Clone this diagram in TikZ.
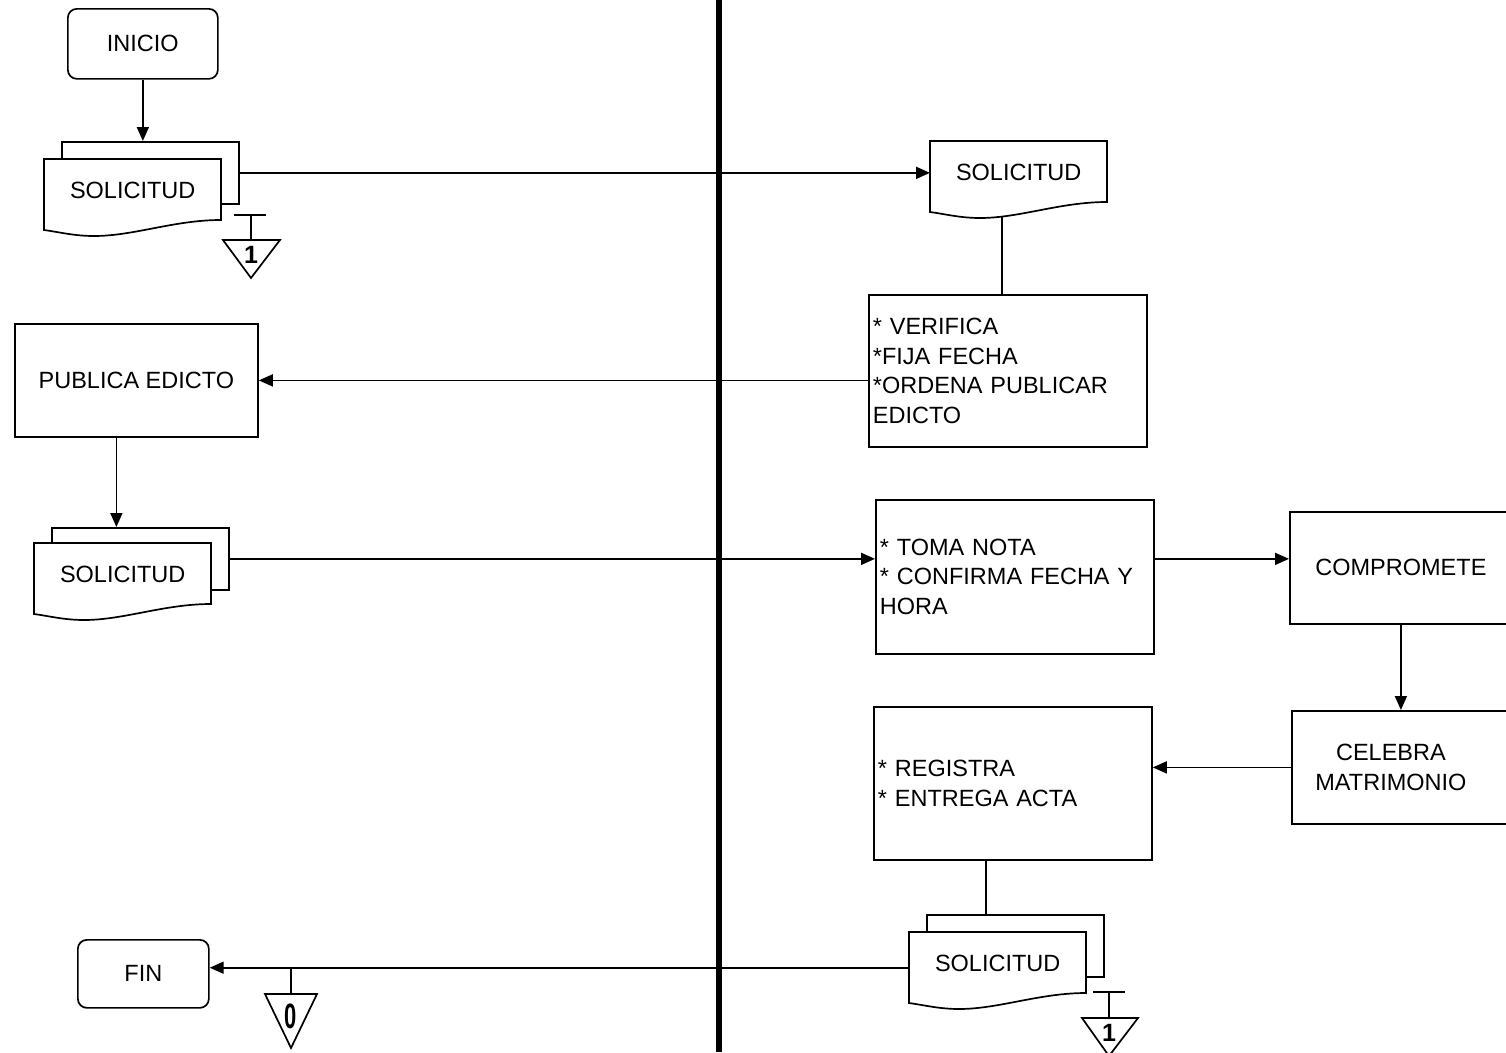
\documentclass[tikz,border=0pt]{standalone}
\usepackage{fontspec}
\setmainfont{Liberation Sans}
\usetikzlibrary{arrows.meta,calc}
\newcommand{\docshape}[2]{\draw[docline, shift={(#1,#2)}] (0,0) -- (177,0) -- (177,61) .. controls (130,61) and (90,77) .. (50,77) .. controls (30,77) and (15,73) .. (0,71) -- cycle;}

\begin{document}
\begin{tikzpicture}[
  x=1pt, y=-1pt,
  every node/.style={font=\fontsize{23.5}{29.5}\selectfont},
  term/.style={draw, rounded corners=9pt, line width=1.7pt, anchor=north west, inner sep=0pt},
  proc/.style={draw, line width=1.8pt, anchor=north west, inner sep=0pt},
  plist/.style={proc, align=left, inner xsep=4pt, text width=270pt},
  docback/.style={draw, fill=white, line width=1.7pt, anchor=north west, inner sep=0pt, minimum width=177pt, minimum height=62pt},
  doctext/.style={anchor=north west, inner sep=0pt, minimum width=177pt, minimum height=71pt, text height=17pt, text depth=10pt},
  docline/.style={draw, fill=white, line width=1.7pt},
  line/.style={line width=1.7pt},
  arrow/.style={line, -{Triangle[length=14pt,width=12pt]}},
  conn/.style={font=\fontsize{25}{25}\selectfont\bfseries, inner sep=0pt}
]
\useasboundingbox (0,0) rectangle (1506,1052);
\clip (0,0) rectangle (1506,1052);

% lane separator
\draw[line width=6pt] (719,0) -- (719,1052);

% left lane
\node[term, minimum width=150pt, minimum height=70pt] (inicio) at (67,8) {INICIO};
\node[docback] (back1) at (61,141) {};
\docshape{44}{159}
\node[doctext] (sol1) at (44,159) {SOLICITUD};
\node[proc, minimum width=243pt, minimum height=113pt] (edicto) at (14,323) {PUBLICA EDICTO};
\node[docback] (back2) at (51,527) {};
\docshape{34}{543}
\node[doctext] (sol3) at (34,543) {SOLICITUD};
\node[term, minimum width=131pt, minimum height=68pt] (fin) at (77,939) {FIN};

% right lane
\docshape{930}{141}
\node[doctext] (sol2) at (930,141) {SOLICITUD};
\node[plist, minimum width=278pt, minimum height=152pt] (verif) at (868,294) {* VERIFICA\\{}*FIJA FECHA\\{}*ORDENA PUBLICAR\\EDICTO};
\node[plist, minimum width=278pt, minimum height=154pt] (nota) at (875,499) {* TOMA NOTA\\{}* CONFIRMA FECHA Y\\HORA};
\node[proc, minimum width=222pt, minimum height=112pt] (compromete) at (1289,511) {COMPROMETE};
\node[proc, minimum width=221pt, minimum height=113pt] (celebra) at (1291,710) {\parbox{198pt}{\centering CELEBRA\\MATRIMONIO}\hspace*{23pt}};
\node[plist, minimum width=278pt, minimum height=153pt] (registra) at (873,706) {* REGISTRA\\{}* ENTREGA ACTA};
\node[docback] (back4) at (926,914) {};
\docshape{909}{932}
\node[doctext] (sol4) at (909,932) {SOLICITUD};

% connectors
\draw[arrow] (inicio.south) -- (inicio.south |- back1.north);
\draw[arrow] (back1.east) -- (back1.east -| sol2.west);
\coordinate (sol2foot) at ([yshift=-5pt]sol2.south);
\coordinate (veriftop) at ([xshift=-6pt]verif.north);
\draw[line] (veriftop) -- (veriftop |- sol2foot);
\draw[arrow] (verif.west |- edicto.east) -- (edicto.east);
\coordinate (edictofoot) at ([xshift=-20pt]edicto.south);
\draw[arrow] (edictofoot) -- (edictofoot |- back2.north);
\draw[arrow] (back2.east) -- (back2.east -| nota.west);
\draw[arrow] (back2.east -| nota.east) -- (back2.east -| compromete.west);
\draw[arrow] (compromete.south) -- (compromete.south |- celebra.north);
\draw[arrow] (celebra.west) -- (celebra.west -| registra.east);
\coordinate (registrafoot) at ([xshift=-27pt]registra.south);
\draw[line] (registrafoot) -- (registrafoot |- back4.north);
\draw[arrow] (sol4.west) -- (sol4.west -| fin.east);

% off-page connectors
\draw[line] (234,215) -- (266,215) (251,215) -- (251,240);
\draw[line] (223,240) -- (280,240) -- (251,278) -- cycle;
\node[conn] (op1) at (251,255) {1};

\coordinate (op0top) at (291,994);
\draw[line] (op0top |- sol4.west) -- (op0top);
\draw[line] (265,994) -- (317,994) -- (291,1048) -- cycle;
\node[conn, font=\fontsize{22}{22}\selectfont\bfseries] (op0) at (291,1016) {\scalebox{1}[1.6]{0}};

\draw[line] (1093,992) -- (1125,992) (1109,992) -- (1109,1018);
\draw[line] (1082,1018) -- (1138,1018) -- (1109,1056) -- cycle;
\node[conn] (op2) at (1109,1033) {1};
\end{tikzpicture}
\end{document}
